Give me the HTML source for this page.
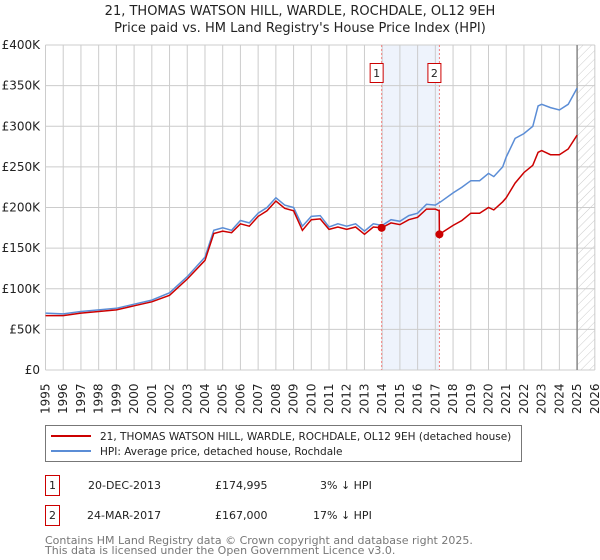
<!DOCTYPE html>
<html><head><meta charset="utf-8"><style>
body{margin:0;background:#fff;font-family:"DejaVu Sans","Liberation Sans",sans-serif;}
svg{display:block}
</style></head><body>
<svg id="c" width="600" height="560" xmlns="http://www.w3.org/2000/svg">
<defs><pattern id="hatch" width="6" height="6" patternUnits="userSpaceOnUse" patternTransform="rotate(45)"><line x1="0" y1="0" x2="0" y2="6" stroke="#ccc" stroke-width="1"/></pattern></defs>
<text x="300" y="15" text-anchor="middle" font-size="13" fill="#222">21, THOMAS WATSON HILL, WARDLE, ROCHDALE, OL12 9EH</text>
<text x="300" y="32" text-anchor="middle" font-size="13" fill="#222">Price paid vs. HM Land Registry's House Price Index (HPI)</text>
<g id="grid"></g><g id="marks"></g><g id="axes"></g>
<g>
<rect x="45.5" y="425.5" width="476" height="36" fill="#fff" stroke="#777"/>
<line x1="51" y1="436" x2="91" y2="436" stroke="#cc0000" stroke-width="2"/>
<text x="100" y="440" font-size="10.5" fill="#222">21, THOMAS WATSON HILL, WARDLE, ROCHDALE, OL12 9EH (detached house)</text>
<line x1="51" y1="451" x2="91" y2="451" stroke="#5b8dd6" stroke-width="2"/>
<text x="100" y="455" font-size="10.5" fill="#222">HPI: Average price, detached house, Rochdale</text>
</g>
<g font-size="11" fill="#222">
<rect x="45.5" y="475.5" width="14" height="20" fill="#fff" stroke="#cc0000"/>
<text x="52.5" y="489" text-anchor="middle">1</text>
<text x="88" y="489">20-DEC-2013</text>
<text x="215" y="489">£174,995</text>
<text x="320" y="489">3% ↓ HPI</text>
<rect x="45.5" y="505.5" width="14" height="20" fill="#fff" stroke="#cc0000"/>
<text x="52.5" y="519" text-anchor="middle">2</text>
<text x="87" y="519">24-MAR-2017</text>
<text x="215" y="519">£167,000</text>
<text x="313" y="519">17% ↓ HPI</text>
</g>
<text x="45" y="544" font-size="11" fill="#777">Contains HM Land Registry data © Crown copyright and database right 2025.</text>
<text x="45" y="554" font-size="11" fill="#777">This data is licensed under the Open Government Licence v3.0.</text>
</svg>
<script>
const yTicks=[0,50,100,150,200,250,300,350,400];
const yLabels=["£0","£50K","£100K","£150K","£200K","£250K","£300K","£350K","£400K"];
const years=[1995,1996,1997,1998,1999,2000,2001,2002,2003,2004,2005,2006,2007,2008,2009,2010,2011,2012,2013,2014,2015,2016,2017,2018,2019,2020,2021,2022,2023,2024,2025,2026];
const hpiT=[1995,1996,1997,1998,1999,2000,2001,2002,2003,2004,2004.5,2005,2005.5,2006,2006.5,2007,2007.5,2008,2008.5,2009,2009.5,2010,2010.5,2011,2011.5,2012,2012.5,2013,2013.5,2014,2014.5,2015,2015.5,2016,2016.5,2017,2017.3,2018,2018.5,2019,2019.5,2020,2020.3,2020.8,2021,2021.5,2022,2022.5,2022.8,2023,2023.5,2024,2024.5,2025];
const hpiV=[70,69,72,74,76,81,86,95,115,139,172,175,172,184,181,193,200,212,203,200,177,189,190,176,180,177,180,171,180,178,185,183,190,193,204,203,207,218,225,233,233,242,238,250,262,285,291,300,325,327,323,320,327,347];
const redT=[1995,1996,1997,1998,1999,2000,2001,2002,2003,2004,2004.5,2005,2005.5,2006,2006.5,2007,2007.5,2008,2008.5,2009,2009.5,2010,2010.5,2011,2011.5,2012,2012.5,2013,2013.5,2013.97,2014.5,2015,2015.5,2016,2016.5,2017,2017.22,2017.23,2018,2018.5,2019,2019.5,2020,2020.3,2020.8,2021,2021.5,2022,2022.5,2022.8,2023,2023.5,2024,2024.5,2025];
const redV=[67,67,70,72,74,79,84,92,112,135,168,171,169,180,177,189,196,208,199,196,172,185,186,173,176,173,176,167,176,175,181,179,185,188,198,198,196,167,178,184,193,193,200,197,207,212,230,243,252,268,270,265,265,272,289];
const saleT=[2013.97,2017.23];
const saleV=[174.995,167];
const x=t=>45.5+(t-1995)*17.72, y=v=>370-v*0.8125;
const NS="http://www.w3.org/2000/svg";
function el(p,tag,a){const e=document.createElementNS(NS,tag);for(const k in a)e.setAttribute(k,a[k]);p.appendChild(e);return e;}
const G=document.getElementById('grid'),M=document.getElementById('marks'),A=document.getElementById('axes');
const sh=el(G,'rect',{x:x(saleT[0]),y:y(400),width:x(saleT[1])-x(saleT[0]),height:y(0)-y(400),fill:'#eef3fc'});


const ht=el(G,'rect',{x:x(2025),y:y(400),width:x(2026)-x(2025),height:y(0)-y(400),fill:'url(#hatch)'});


years.forEach(t=>{const l=el(G,'line',{x1:x(t),x2:x(t),y1:y(400),y2:y(0),stroke:'#ccc'});


const tx=el(A,'text',{x:0,y:0,transform:`translate(${x(t)+4},414) rotate(-90)`,'font-size':12,fill:'#222'});tx.textContent=t;

});
yTicks.forEach((v,i)=>{const l=el(G,'line',{x1:x(1995),x2:x(2026),y1:y(v),y2:y(v),stroke:'#ccc'});


const tx=el(A,'text',{x:40,y:y(v)+4,'text-anchor':'end','font-size':12,fill:'#222'});tx.textContent=yLabels[i];

});
const nl=el(G,'line',{x1:x(2025),x2:x(2025),y1:y(400),y2:y(0),stroke:'#888','stroke-width':1.5});


saleT.forEach((t,i)=>{const l=el(G,'line',{x1:x(t),x2:x(t),y1:y(400),y2:y(0),stroke:'#f08080','stroke-dasharray':'2,2'});


const b=el(A,'rect',{x:x(t)-11.5,y:63.5,width:13,height:19,fill:'#fff',stroke:'#cc0000'});


const tx=el(A,'text',{x:x(t)-5,y:77,'text-anchor':'middle','font-size':11,fill:'#222'});tx.textContent=i+1;

});
const hp=el(M,'path',{d:hpiT.map((t,i)=>(i?'L':'M')+x(t).toFixed(1)+','+y(hpiV[i]).toFixed(1)).join(''),fill:'none',stroke:'#5b8dd6','stroke-width':1.5});


const rp=el(M,'path',{d:redT.map((t,i)=>(i?'L':'M')+x(t).toFixed(1)+','+y(redV[i]).toFixed(1)).join(''),fill:'none',stroke:'#cc0000','stroke-width':1.5});


saleT.forEach((t,i)=>{const c=el(M,'circle',{cx:x(t),cy:y(saleV[i]),r:4,fill:'#cc0000'});

});
</script>
</body></html>
